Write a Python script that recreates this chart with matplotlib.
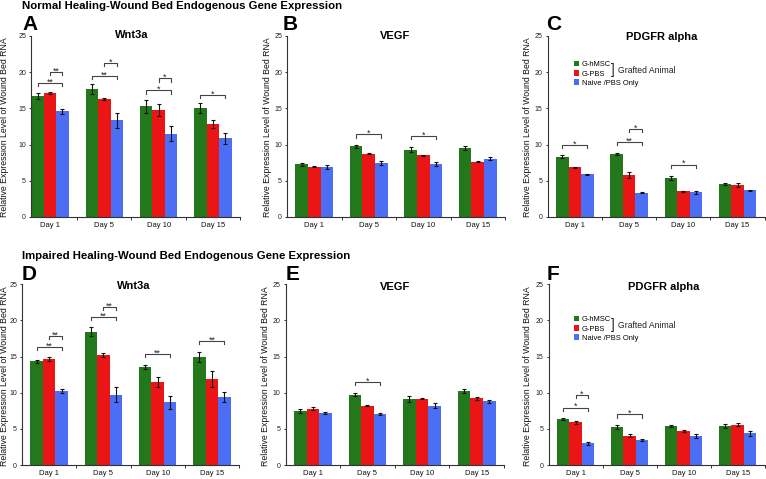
import numpy as np
import matplotlib
matplotlib.use('Agg')
import matplotlib.pyplot as plt

plt.rcParams['font.family'] = ['Liberation Sans', 'DejaVu Sans']

days = ['Day 1', 'Day 5', 'Day 10', 'Day 15']
groups = ['G-hMSC', 'G-PBS', 'Naive /PBS Only']
colors = ['#22781a', '#ec1515', '#4b6ef5']

# A - normal healing, Wnt3a
a_mean = [[16.75, 17.7, 15.3, 15.0], [17.1, 16.3, 14.75, 12.8], [14.6, 13.35, 11.5, 10.85]]
a_err = [[0.4, 0.65, 0.9, 0.7], [0.1, 0.1, 0.85, 0.55], [0.35, 1.05, 1.05, 0.8]]
a_sig = [(0, 0, 2, 18.5, '**'), (0, 1, 2, 20.05, '**'), (1, 0, 2, 19.45, '**'), (1, 1, 2, 21.3, '*'),
         (2, 0, 2, 17.5, '*'), (2, 1, 2, 19.15, '*'), (3, 0, 2, 16.85, '*')]

# B - normal healing, VEGF
b_mean = [[7.3, 9.75, 9.3, 9.5], [6.95, 8.75, 8.5, 7.65], [6.9, 7.45, 7.3, 8.05]]
b_err = [[0.2, 0.2, 0.35, 0.3], [0.1, 0.05, 0.07, 0.1], [0.25, 0.25, 0.3, 0.2]]
b_sig = [(1, 0, 2, 11.4, '*'), (2, 0, 2, 11.2, '*')]

# C - normal healing, PDGFR alpha
c_mean = [[8.35, 8.75, 5.4, 4.6], [6.85, 5.8, 3.55, 4.4], [5.9, 3.35, 3.4, 3.7]]
c_err = [[0.25, 0.15, 0.3, 0.15], [0.1, 0.35, 0.07, 0.25], [0.1, 0.05, 0.2, 0.05]]
c_sig = [(0, 0, 2, 10.0, '*'), (1, 0, 2, 10.4, '**'), (1, 1, 2, 12.2, '*'), (2, 0, 2, 7.25, '*')]

# D - impaired healing, Wnt3a
d_mean = [[14.35, 18.45, 13.6, 14.95], [14.65, 15.2, 11.45, 11.85], [10.25, 9.75, 8.65, 9.4]]
d_err = [[0.2, 0.65, 0.3, 0.65], [0.3, 0.25, 0.7, 1.1], [0.25, 1.0, 0.9, 0.75]]
d_sig = [(0, 0, 2, 16.35, '**'), (0, 1, 2, 17.85, '**'), (1, 0, 2, 20.5, '**'), (1, 1, 2, 21.9, '**'),
         (2, 0, 2, 15.35, '**'), (3, 0, 2, 17.15, '**')]

# E - impaired healing, VEGF
e_mean = [[7.5, 9.75, 9.1, 10.2], [7.8, 8.2, 9.2, 9.25], [7.2, 7.0, 8.2, 8.8]]
e_err = [[0.25, 0.2, 0.4, 0.3], [0.2, 0.08, 0.05, 0.2], [0.2, 0.15, 0.35, 0.2]]
e_sig = [(1, 0, 2, 11.5, '*')]

# F - impaired healing, PDGFR alpha
f_mean = [[6.35, 5.3, 5.45, 5.4], [5.9, 4.05, 4.7, 5.6], [3.0, 3.45, 4.0, 4.4]]
f_err = [[0.1, 0.3, 0.15, 0.3], [0.2, 0.2, 0.2, 0.25], [0.25, 0.1, 0.25, 0.35]]
f_sig = [(0, 0, 2, 7.95, '*'), (0, 1, 2, 9.7, '*'), (1, 0, 2, 7.0, '*')]

W, H = 766, 479
BW = 0.23


def fx(x):
    return x / W


def fy(y):
    return 1 - y / H


def draw_panel(fig, rect, xlo, means, errs, sigs, title, title_pos, letter, letter_pos, ylab_x, legend_at=None):
    left, right, top, bottom = rect
    ax = fig.add_axes([fx(left), fy(bottom), (right - left) / W, (bottom - top) / H])
    x = np.arange(len(days))
    bars = []
    for i in range(3):
        xs = x + (i - 1) * BW
        b = ax.bar(xs, means[i], BW, color=colors[i], linewidth=0, zorder=2)
        ax.errorbar(xs, means[i], yerr=errs[i], fmt='none', ecolor='#111111',
                    elinewidth=0.8, capsize=1.4, capthick=0.8, zorder=3)
        bars.append(b)
    for day, g1, g2, y, star in sigs:
        x1 = day + (g1 - 1) * BW
        x2 = day + (g2 - 1) * BW
        ax.plot([x1, x1, x2, x2], [y - 0.45, y, y, y - 0.45], color='#444444', lw=0.8, zorder=4)
        ax.annotate(star, xy=((x1 + x2) / 2, y), xytext=(0, -1.2), textcoords='offset points',
                    ha='center', va='baseline', fontsize=6.3, color='#222222')
    ax.set_xlim(xlo, 3.5)
    ax.set_ylim(0, 25)
    ax.set_yticks([0, 5, 10, 15, 20, 25])
    ax.set_xticks(x)
    ax.set_xticklabels(days)
    ax.set_xticks([0.5, 1.5, 2.5, 3.5], minor=True)
    ax.tick_params(axis='x', which='major', length=0, labelsize=5.5, pad=3.5, labelcolor='#111111')
    ax.tick_params(axis='x', which='minor', length=2.2, width=0.7, color='#333333', direction='out')
    ax.tick_params(axis='y', length=1.8, width=0.7, color='#333333', labelsize=5, pad=1.8,
                   labelcolor='#222222')
    for s in ['top', 'right']:
        ax.spines[s].set_visible(False)
    for s in ['left', 'bottom']:
        ax.spines[s].set_color('#333333')
        ax.spines[s].set_linewidth(0.8)

    fig.text(fx(title_pos[0]), fy(title_pos[1]), title, ha='center', va='baseline',
             fontsize=8, fontweight='bold')
    fig.text(fx(letter_pos[0]), fy(letter_pos[1]), letter, ha='left', va='baseline',
             fontsize=15, fontweight='bold')
    fig.text(fx(ylab_x), fy((top + bottom) / 2 + 1), 'Relative Expression Level of Wound Bed RNA',
             rotation=90, ha='center', va='center', fontsize=6.3, color='#111111')

    if legend_at is not None:
        lx, ly = legend_at
        ax.legend(bars, groups, loc='upper left', bbox_to_anchor=(fx(lx), fy(ly)),
                  bbox_transform=fig.transFigure, frameon=False, borderpad=0, borderaxespad=0,
                  handlelength=0.75, handleheight=0.75, handletextpad=0.35, labelspacing=0.25,
                  fontsize=5.4)
        fig.text(fx(lx + 39), fy(ly + 9.5), ']', ha='center', va='center', fontsize=10, color='#222222')
        fig.text(fx(lx + 44), fy(ly + 9.5), 'Grafted Animal', ha='left', va='center', fontsize=6.2,
                 color='#222222')
    return ax


fig = plt.figure(figsize=(W / 100, H / 100), dpi=100)

fig.text(fx(21.5), fy(9.3), 'Normal Healing-Wound Bed Endogenous Gene Expression',
         ha='left', va='baseline', fontsize=8.2, fontweight='bold')
fig.text(fx(22.5), fy(259), 'Impaired Healing-Wound Bed Endogenous Gene Expression',
         ha='left', va='baseline', fontsize=8.2, fontweight='bold')

draw_panel(fig, (31, 240, 36, 217), -0.35, a_mean, a_err, a_sig, 'Wnt3a', (132, 37.7), 'A', (22.5, 30.5), 5)
draw_panel(fig, (287, 505, 36, 217), -0.5, b_mean, b_err, b_sig, 'VEGF', (395, 39.3), 'B', (283, 30.5), 267)
draw_panel(fig, (547.7, 764.7, 36, 217), -0.5, c_mean, c_err, c_sig, 'PDGFR alpha', (661.5, 40.5), 'C',
           (546.5, 30.5), 527, legend_at=(573.5, 61))
draw_panel(fig, (22, 239, 284.3, 465), -0.5, d_mean, d_err, d_sig, 'Wnt3a', (133.5, 289.3), 'D', (22, 280.5), 4.5)
draw_panel(fig, (285.5, 504, 284.3, 465), -0.5, e_mean, e_err, e_sig, 'VEGF', (395, 290), 'E', (286, 280.5), 266)
draw_panel(fig, (548.7, 764.7, 284.3, 465), -0.5, f_mean, f_err, f_sig, 'PDGFR alpha', (664, 290), 'F',
           (546.5, 280.5), 528, legend_at=(573.5, 316))

fig.savefig('out.png', dpi=100)
